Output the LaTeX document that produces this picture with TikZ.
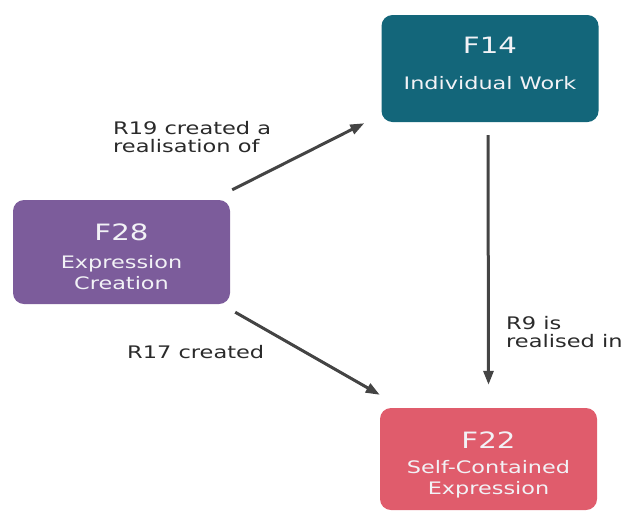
\documentclass[tikz,border=0pt]{standalone}
\usepackage{fontspec}
\setmainfont{DejaVu Sans}[FakeStretch=1.3]
\usetikzlibrary{arrows.meta}
\definecolor{teal14}{HTML}{13667A}
\definecolor{purple28}{HTML}{7C5C9B}
\definecolor{red22}{HTML}{E05C6C}
\definecolor{txtgrey}{HTML}{2A2A2A}
\definecolor{arrgrey}{HTML}{444444}
\definecolor{boxtxt}{HTML}{F2F2F6}
\tikzset{
  box/.style={rounded corners=11pt, minimum width=217pt, inner sep=0pt},
  title/.style={text=boxtxt, font=\fontsize{22.5}{24}\selectfont, inner sep=0pt},
  body/.style={text=boxtxt, font=\fontsize{17.2}{21}\selectfont, align=center, inner sep=0pt},
  rel/.style={text=txtgrey, font=\fontsize{17.3}{18}\selectfont, align=left, inner sep=0pt, anchor=west},
  arr/.style={draw=arrgrey, line width=3pt, -{Triangle[length=14pt,width=10pt]}}
}
\begin{document}
\begin{tikzpicture}[x=1pt,y=-1pt]
\useasboundingbox (0,0) rectangle (628,515);
% boxes
\node[box, fill=teal14, minimum height=107pt] (f14) at (490,68.5) {};
\node[box, fill=purple28, minimum height=104pt] (f28) at (121.5,252) {};
\node[box, fill=red22, minimum height=102pt] (f22) at (488.5,459) {};
% box texts
\node[title] (f14t) at (490,45) {F14};
\node[body] (f14b) at (490,83) {Individual Work};
\node[title] (f28t) at (121.5,232) {F28};
\node[body] (f28b) at (121.5,272.5) {Expression\\Creation};
\node[title] (f22t) at (488.5,440) {F22};
\node[body] (f22b) at (488.5,479) {Self-Contained\\Expression};
% connectors
\draw[arr] ([shift={(2,-10)}]f28.north east) -- ([shift={(-17,1)}]f14.south west);
\draw[arr] ([shift={(5,8)}]f28.south east) -- ([shift={(0,-13)}]f22.north west);
\draw[arr] ([shift={(-2,13)}]f14.south) -- ([shift={(0,-23)}]f22.north);
% relation labels
\node[rel] (r19) at (113,137) {R19 created a\\realisation of};
\node[rel] (r17) at (127,352) {R17 created};
\node[rel] (r9) at (506,332) {R9 is\\realised in};
\end{tikzpicture}
\end{document}
